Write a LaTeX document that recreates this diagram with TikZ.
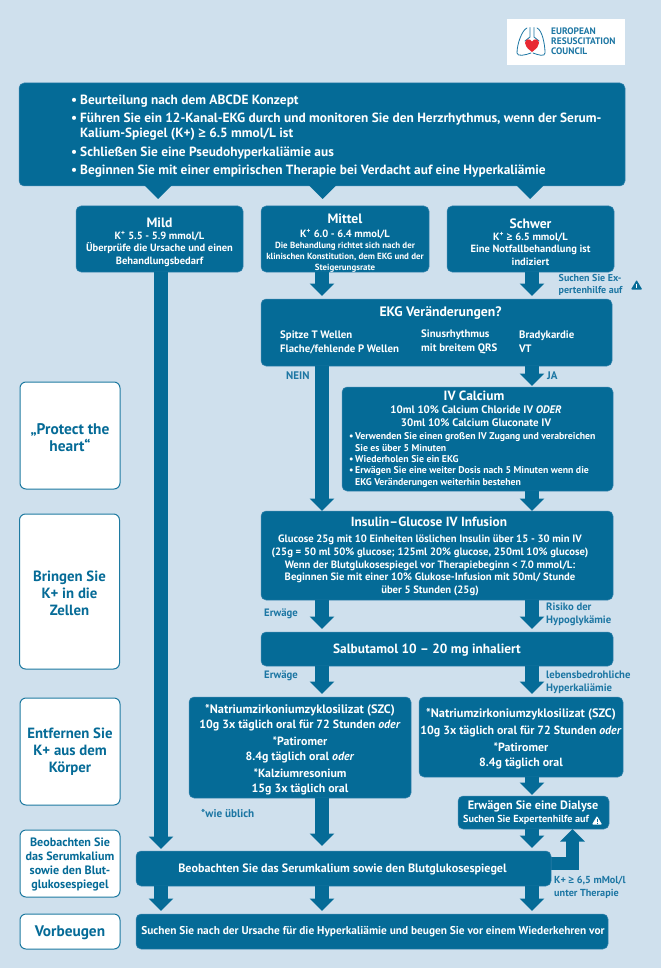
\documentclass[tikz,border=0pt]{standalone}
\usepackage{fontspec}
\setmainfont{PT Sans}
\newfontfamily\geqfont{Open Sans}
\usetikzlibrary{arrows.meta,calc}
\definecolor{bgc}{RGB}{207,224,237}
\definecolor{boxc}{RGB}{5,107,151}
\definecolor{edgec}{RGB}{60,135,175}
\definecolor{labc}{RGB}{28,118,163}
\definecolor{redc}{RGB}{232,40,50}
\newcommand\fs[2]{\fontsize{#1}{#2}\selectfont}
\newcommand\bul{\makebox[9pt][l]{•}}
\newcommand\gex{{\geqfont ≥}}
\newcommand\topstrut[1]{\rule{0pt}{#1pt}}
\tikzset{
 bluebox/.style={fill=boxc,draw=edgec,line width=0.5pt,rounded corners=5pt,inner sep=0pt,outer sep=0pt,text=white,align=center,font=\bfseries\fs{10.5}{12.7}},
 sidebox/.style={fill=white,draw=boxc!90!white,line width=1pt,rounded corners=6pt,inner sep=0pt,outer sep=0pt,text=boxc,align=center,font=\bfseries\fs{14.8}{17}},
 wtext/.style={text=white,inner sep=0pt,align=center,font=\bfseries\fs{10}{12.5}},
 ltext/.style={text=labc,inner sep=0pt,align=left,font=\bfseries\fs{10.7}{13},anchor=west},
 conn/.style={draw=boxc,line width=13.5pt,-{Triangle[width=24pt,length=12.5pt]}},
}
\begin{document}
\begin{tikzpicture}[x=1pt,y=-1pt]
\useasboundingbox (0,0) rectangle (661,968);
\fill[bgc] (0,0) rectangle (661,968);
\coordinate (colA) at (161,0);
\coordinate (colB) at (322,0);
\coordinate (colC) at (532,0);
\coordinate (colD) at (572.5,0);
% logo
\node[fill=white,minimum width=118pt,minimum height=46pt,inner sep=0pt] (logo) at (566,42) {};
\node[anchor=west,inner sep=0pt,align=left,text=labc,font=\bfseries\fs{9.4}{10}] (logotext) at (551,41) {EUROPEAN\\RESUSCITATION\\COUNCIL};
\begin{scope}[draw=labc,line width=0.8pt,line cap=round,line join=round]
\draw (530,27.5) -- (530,37) .. controls (529,40) and (526,38) .. (525,41);
\draw (534,27.5) -- (534,37) .. controls (535,40) and (538,38) .. (539,41);
\draw (527,28) .. controls (522,30) and (517,44) .. (517,53) .. controls (517,57) and (526,55) .. (531,53);
\draw (537,28) .. controls (542,30) and (545,44) .. (545,53) .. controls (545,57) and (538,55) .. (533,53);
\end{scope}
\fill[redc] (532,52) .. controls (527,48) and (525,46) .. (525,43) .. controls (525,39) and (530,38) .. (532,41.5) .. controls (534,38) and (539,39) .. (539,43) .. controls (539,46) and (537,48) .. (532,52) -- cycle;
% top box
\node[bluebox,minimum width=606pt,minimum height=103pt] (main) at (322,134.5) {};
\node[wtext,anchor=west,align=left,font=\bfseries\fs{13.35}{15}] (mainlist) at (71,136) {\bul Beurteilung nach dem ABCDE Konzept\\[3pt]
\bul Führen Sie ein 12-Kanal-EKG durch und monitoren Sie den Herzrhythmus, wenn der Serum-\\
\hspace*{9pt}Kalium-Spiegel (K+) \gex\ 6.5 mmol/L ist\\[4pt]
\bul Schließen Sie eine Pseudohyperkaliämie aus\\[3pt]
\bul Beginnen Sie mit einer empirischen Therapie bei Verdacht auf eine Hyperkaliämie};
\coordinate (pA) at (158,199);
\coordinate (pB) at (322.5,199);
\coordinate (pC) at (530,199);
\foreach \p in {pA,pB,pC}{\fill[boxc] (\p) -- ++(-14,-14) -- ++(28,0) -- cycle;}
% severity
\node[bluebox,minimum width=167pt,minimum height=66pt] (mild) at (159.5,239) {\topstrut{15}\raisebox{-1pt}{\fs{13.6}{16}Mild}\\[0pt]K\textsuperscript{+} 5.5 - 5.9 mmol/L\\Überprüfe die Ursache und einen\\Behandlungsbedarf};
\node[bluebox,minimum width=168pt,minimum height=66pt,font=\bfseries\fs{8.9}{11}] (mittel) at (345,239) {\topstrut{17}{\fs{13.6}{15}Mittel}\\[3pt]{\fs{10.5}{12}K\textsuperscript{+} 6.0 - 6.4 mmol/L}\\Die Behandlung richtet sich nach der\\klinischen Konstitution, dem EKG und der\\Steigerungsrate};
\node[bluebox,minimum width=167pt,minimum height=66pt] (schwer) at (530.5,239) {\topstrut{15}\raisebox{-1pt}{\fs{13.6}{16}Schwer}\\[0pt]K\textsuperscript{+} \gex\ 6.5 mmol/L\\Eine Notfallbehandlung ist\\indiziert};
\node[ltext,font=\bfseries\fs{10}{12}] (hilfe) at (558.5,285) {Suchen Sie Ex-\\pertenhilfe auf};
\fill[boxc,rounded corners=0.8pt] (631,289.5) -- (636.6,280) -- (642.2,289.5) -- cycle;
\draw[white,line width=0.9pt] (636.6,283.5) -- (636.6,286.5) (636.6,287.3) -- (636.6,288.3);
% EKG
\node[bluebox,minimum width=351pt,minimum height=67pt] (ekg) at (436.5,332.5) {};
\node[wtext,font=\bfseries\fs{13.7}{15}] (ekgt) at (440.5,313) {EKG Veränderungen?};
\node[wtext,anchor=west,align=left,font=\bfseries\fs{10.8}{14}] (e1) at (280,342) {Spitze T Wellen\\Flache/fehlende P Wellen};
\node[wtext,anchor=west,align=left,font=\bfseries\fs{10.8}{14}] (e2) at (421,342) {Sinusrhythmus\\mit breitem QRS};
\node[wtext,anchor=west,align=left,font=\bfseries\fs{10.8}{14}] (e3) at (519,342) {Bradykardie\\VT};
\node[ltext,font=\bfseries\fs{11}{13}] (nein) at (286,376) {NEIN};
\node[ltext,font=\bfseries\fs{11}{13}] (ja) at (547,376) {JA};
% IV
\node[bluebox,minimum width=271pt,minimum height=104pt] (iv) at (477.5,439) {};
\node[wtext,font=\bfseries\fs{13.4}{15}] (ivt) at (474,396) {IV Calcium};
\node[wtext,font=\bfseries\fs{10.9}{13}] (ivd) at (476,416.5) {10ml 10\% Calcium Chloride IV \textit{ODER}\\30ml 10\% Calcium Gluconate IV};
\node[wtext,anchor=west,align=left,font=\bfseries\fs{9.8}{11.3}] (ivl) at (349,460) {\makebox[6pt][l]{•}Verwenden Sie einen großen IV Zugang und verabreichen\\\hspace*{6pt}Sie es über 5 Minuten\\\makebox[6pt][l]{•}Wiederholen Sie ein EKG\\\makebox[6pt][l]{•}Erwägen Sie eine weiter Dosis nach 5 Minuten wenn die\\\hspace*{6pt}EKG Veränderungen weiterhin bestehen};
% Insulin
\node[bluebox,minimum width=352pt,minimum height=89pt] (ins) at (437,555.5) {};
\node[wtext,font=\bfseries\fs{13.3}{15}] (inst) at (429,522) {Insulin–Glucose IV Infusion};
\node[wtext,font=\bfseries\fs{10.67}{12.7}] (insd) at (430,565.5) {Glucose 25g mit 10 Einheiten löslichen Insulin über 15 - 30 min IV\\(25g = 50 ml 50\% glucose; 125ml 20\% glucose, 250ml 10\% glucose)\\Wenn der Blutglukosespiegel vor Therapiebeginn < 7.0 mmol/L:\\Beginnen Sie mit einer 10\% Glukose-Infusion mit 50ml/ Stunde\\über 5 Stunden (25g)};
\node[ltext] (erw1) at (264,614) {Erwäge};
\node[ltext] (risk) at (546,614.5) {Risiko der\\Hypoglykämie};
% Salbutamol
\node[bluebox,minimum width=352pt,minimum height=34pt] (salb) at (437,649) {};
\node[wtext,font=\bfseries\fs{13.35}{15}] (salbt) at (427,650) {Salbutamol 10 – 20 mg inhaliert};
\node[ltext] (erw2) at (264,676) {Erwäge};
\node[ltext] (leben) at (546,682.5) {lebensbedrohliche\\Hyperkaliämie};
% SZC
\node[bluebox,minimum width=222pt,minimum height=101pt,font=\bfseries\fs{11.9}{14.7}] (szcl) at (300,747.5) {\topstrut{14}{\fs{12.3}{14.7}*Natriumzirkoniumzyklosilizat (SZC)}\\10g 3x täglich oral für 72 Stunden \textit{oder}\\[2.5pt]*Patiromer\\8.4g täglich oral \textit{oder}\\[2.5pt]*Kalziumresonium\\15g 3x täglich oral};
\node[bluebox,minimum width=204pt,minimum height=80pt,font=\bfseries\fs{11.9}{14.7}] (szcr) at (521,737) {\topstrut{12}{\fs{12.3}{14.7}*Natriumzirkoniumzyklosilizat (SZC)}\\[2.5pt]10g 3x täglich oral für 72 Stunden \textit{oder}\\[2.5pt]*Patiromer\\8.4g täglich oral};
\node[ltext,font=\bfseries\fs{11.2}{13}] (wie) at (201,813) {*wie üblich};
\node[bluebox,minimum width=151pt,minimum height=33pt] (dial) at (533.5,812.5) {};
\node[wtext,font=\bfseries\fs{12.2}{14}] (dialt) at (533,806) {Erwägen Sie eine Dialyse};
\node[wtext,font=\bfseries\fs{10.2}{11}] (dials) at (526,820) {Suchen Sie Expertenhilfe auf};
\fill[white,rounded corners=0.8pt] (592,824.5) -- (597,816) -- (602,824.5) -- cycle;
\draw[boxc,line width=0.8pt] (597,819) -- (597,821.8) (597,822.5) -- (597,823.5);
% monitor
\coordinate (loopstart) at (548,863.5);
\draw[conn] (loopstart) -- (colD |- loopstart) -- (colD |- dial.south);
\node[bluebox,minimum width=415pt,minimum height=35pt] (mon) at (343.5,868.5) {};
\node[wtext,font=\bfseries\fs{12.1}{13}] (mont) at (342.5,869) {Beobachten Sie das Serumkalium sowie den Blutglukosespiegel};
\node[ltext,font=\bfseries\fs{10.2}{13}] (kplus) at (554,887.5) {K+ \gex\ 6,5 mMol/l\\unter Therapie};
\node[bluebox,minimum width=472pt,minimum height=35pt] (bot) at (372,931.5) {};
\node[wtext,font=\bfseries\fs{11.34}{13}] (bott) at (373,932) {Suchen Sie nach der Ursache für die Hyperkaliämie und beugen Sie vor einem Wiederkehren vor};
% arrows
\draw[conn,shorten >=3pt] (colB |- mittel.south) -- (colB |- ekg.north);
\draw[conn,shorten >=3pt] (colC |- schwer.south) -- (colC |- ekg.north);
\draw[conn,shorten >=2pt] (colA |- mild.south) -- (colA |- mon.north);
\draw[conn] (colB |- ekg.south) -- (colB |- ins.north);
\draw[conn,shorten >=1pt] (colC |- ekg.south) -- (colC |- iv.north);
\draw[conn] (colC |- iv.south) -- (colC |- ins.north);
\draw[conn,shorten >=3pt] (colB |- ins.south) -- (colB |- salb.north);
\draw[conn,shorten >=3pt] (colC |- ins.south) -- (colC |- salb.north);
\draw[conn,shorten >=3pt] (colB |- salb.south) -- (colB |- szcl.north);
\draw[conn,shorten >=3pt] (colC |- salb.south) -- (colC |- szcr.north);
\draw[conn,shorten >=5pt] (colB |- szcl.south) -- (colB |- mon.north);
\draw[conn,shorten >=1pt] (colC |- szcr.south) -- (colC |- dial.north);
\draw[conn,shorten >=3pt] (colC |- dial.south) -- (colC |- mon.north);
\draw[conn,shorten >=3pt] (colA |- mon.south) -- (colA |- bot.north);
\draw[conn,shorten >=3pt] (colB |- mon.south) -- (colB |- bot.north);
\draw[conn,shorten >=3pt] (colC |- mon.south) -- (colC |- bot.north);
% side boxes
\node[sidebox,minimum width=100pt,minimum height=107pt,font=\bfseries\fs{15.4}{17}] (s1) at (70,435.5) {\topstrut{15.5}„Protect the\\heart“};
\node[sidebox,minimum width=100pt,minimum height=155pt] (s2) at (69.5,591.5) {\topstrut{13.5}Bringen Sie\\K+ in die\\Zellen};
\node[sidebox,minimum width=100pt,minimum height=107pt] (s3) at (70,751.5) {Entfernen Sie\\K+ aus dem\\Körper};
\node[sidebox,minimum width=100pt,minimum height=67pt,font=\bfseries\fs{12.1}{14}] (s4) at (70,863.5) {\topstrut{11.5}Beobachten Sie\\das Serumkalium\\sowie den Blut-\\glukosespiegel};
\node[sidebox,minimum width=100pt,minimum height=35pt,font=\bfseries\fs{15.3}{17}] (s5) at (70,931.5) {\topstrut{14}Vorbeugen};
\end{tikzpicture}
\end{document}
